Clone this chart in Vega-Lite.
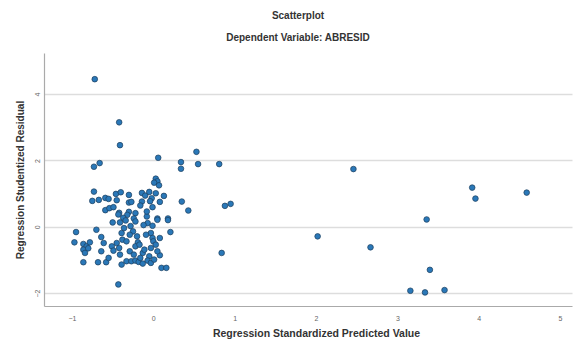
{
  "$schema": "https://vega.github.io/schema/vega-lite/v6.json",
  "width": 528,
  "height": 253,
  "autosize": "none",
  "padding": {"left": 44, "top": 53, "right": 2, "bottom": 34},
  "background": "white",
  "title": {
    "text": ["Scatterplot", "Dependent Variable: ABRESID"],
    "fontSize": 10,
    "fontWeight": "bold",
    "font": "Liberation Sans",
    "color": "#333333",
    "lineHeight": 22,
    "anchor": "middle",
    "dx": -10,
    "offset": 10
  },
  "config": {
    "view": {"stroke": null},
    "axis": {
      "labelFont": "Liberation Sans",
      "titleFont": "Liberation Sans",
      "labelColor": "#666666",
      "labelFontSize": 7,
      "titleFontSize": 10.5,
      "titleFontWeight": "bold",
      "titleColor": "#333333",
      "domainColor": "#aaaaaa",
      "domainWidth": 1.2,
      "ticks": false,
      "gridColor": "#dddddd",
      "gridWidth": 1.5
    }
  },
  "data": {
    "values": [
      {"pred": -0.72, "resid": 4.45}, {"pred": -0.42, "resid": 3.15}, {"pred": -0.41, "resid": 2.46},
      {"pred": -0.73, "resid": 1.81}, {"pred": -0.66, "resid": 1.92}, {"pred": 0.06, "resid": 2.08},
      {"pred": 0.34, "resid": 1.95}, {"pred": 0.34, "resid": 1.75}, {"pred": 0.53, "resid": 2.26},
      {"pred": 0.55, "resid": 1.89}, {"pred": 0.81, "resid": 1.89}, {"pred": 2.46, "resid": 1.74},
      {"pred": 3.92, "resid": 1.18}, {"pred": 3.96, "resid": 0.85}, {"pred": 4.59, "resid": 1.03},
      {"pred": 3.36, "resid": 0.22}, {"pred": 2.02, "resid": -0.29}, {"pred": 2.67, "resid": -0.62},
      {"pred": 3.40, "resid": -1.30}, {"pred": 3.16, "resid": -1.93}, {"pred": 3.34, "resid": -1.98},
      {"pred": 3.58, "resid": -1.91}, {"pred": 0.84, "resid": -0.79}, {"pred": 0.88, "resid": 0.63},
      {"pred": 0.95, "resid": 0.69}, {"pred": 0.35, "resid": 0.76}, {"pred": 0.43, "resid": 0.49},
      {"pred": -0.43, "resid": -1.74},
      {"pred": 0.03, "resid": 1.45}, {"pred": 0.05, "resid": 1.37}, {"pred": 0.01, "resid": 1.33},
      {"pred": 0.07, "resid": 1.25}, {"pred": -0.73, "resid": 1.06}, {"pred": -0.46, "resid": 0.99},
      {"pred": -0.40, "resid": 1.04}, {"pred": -0.30, "resid": 0.96}, {"pred": -0.14, "resid": 1.02},
      {"pred": -0.10, "resid": 0.94}, {"pred": -0.05, "resid": 1.05}, {"pred": 0.03, "resid": 1.01},
      {"pred": 0.13, "resid": 0.93}, {"pred": -0.02, "resid": 0.86},
      {"pred": -0.75, "resid": 0.78}, {"pred": -0.67, "resid": 0.81}, {"pred": -0.59, "resid": 0.87},
      {"pred": -0.55, "resid": 0.84}, {"pred": -0.45, "resid": 0.80}, {"pred": -0.30, "resid": 0.73},
      {"pred": -0.27, "resid": 0.75}, {"pred": -0.14, "resid": 0.76}, {"pred": -0.04, "resid": 0.77},
      {"pred": 0.08, "resid": 0.75}, {"pred": -0.16, "resid": 0.64}, {"pred": -0.01, "resid": 0.59},
      {"pred": -0.59, "resid": 0.50}, {"pred": -0.54, "resid": 0.56}, {"pred": -0.49, "resid": 0.59},
      {"pred": -0.30, "resid": 0.45}, {"pred": -0.42, "resid": 0.42}, {"pred": -0.32, "resid": 0.36},
      {"pred": -0.22, "resid": 0.41}, {"pred": -0.37, "resid": 0.27}, {"pred": -0.24, "resid": 0.25},
      {"pred": -0.08, "resid": 0.31}, {"pred": 0.05, "resid": 0.25}, {"pred": 0.18, "resid": 0.25},
      {"pred": -0.43, "resid": 0.37}, {"pred": -0.08, "resid": 0.46},
      {"pred": -0.50, "resid": 0.13}, {"pred": -0.41, "resid": 0.13}, {"pred": -0.34, "resid": 0.19},
      {"pred": -0.22, "resid": 0.16}, {"pred": -0.07, "resid": 0.11}, {"pred": 0.05, "resid": 0.21},
      {"pred": 0.18, "resid": 0.20}, {"pred": -0.12, "resid": 0.05}, {"pred": -0.28, "resid": 0.02},
      {"pred": -0.01, "resid": 0.03},
      {"pred": -0.95, "resid": -0.16}, {"pred": -0.97, "resid": -0.47}, {"pred": -0.70, "resid": -0.09},
      {"pred": -0.64, "resid": -0.31}, {"pred": -0.86, "resid": -0.52}, {"pred": -0.82, "resid": -0.59},
      {"pred": -0.78, "resid": -0.47}, {"pred": -0.86, "resid": -0.69}, {"pred": -0.84, "resid": -0.79},
      {"pred": -0.80, "resid": -0.65}, {"pred": -0.86, "resid": -1.07}, {"pred": -0.68, "resid": -1.07},
      {"pred": -0.58, "resid": -1.07}, {"pred": -0.64, "resid": -0.74}, {"pred": -0.61, "resid": -0.49},
      {"pred": -0.51, "resid": -0.59}, {"pred": -0.49, "resid": -0.72}, {"pred": -0.45, "resid": -0.49},
      {"pred": -0.39, "resid": -0.19}, {"pred": -0.36, "resid": -0.04}, {"pred": -0.38, "resid": -0.39},
      {"pred": -0.41, "resid": -0.84}, {"pred": -0.39, "resid": -1.14}, {"pred": -0.33, "resid": -1.04},
      {"pred": -0.29, "resid": -0.74}, {"pred": -0.27, "resid": -1.04}, {"pred": -0.22, "resid": -1.02},
      {"pred": -0.18, "resid": -1.06}, {"pred": -0.13, "resid": -1.11}, {"pred": -0.13, "resid": -0.79},
      {"pred": -0.25, "resid": -0.14}, {"pred": -0.20, "resid": -0.29}, {"pred": -0.19, "resid": -0.47},
      {"pred": -0.22, "resid": -0.59}, {"pred": -0.17, "resid": -0.54}, {"pred": -0.03, "resid": -0.19},
      {"pred": -0.01, "resid": -0.34}, {"pred": 0.00, "resid": -0.44}, {"pred": -0.03, "resid": -0.64},
      {"pred": -0.05, "resid": -0.89}, {"pred": -0.07, "resid": -1.02}, {"pred": -0.03, "resid": -1.09},
      {"pred": 0.01, "resid": -0.99}, {"pred": 0.08, "resid": -0.86}, {"pred": 0.10, "resid": -1.24},
      {"pred": 0.16, "resid": -1.24}, {"pred": 0.21, "resid": -0.16}, {"pred": -0.29, "resid": -0.24},
      {"pred": -0.33, "resid": -0.44}, {"pred": -0.24, "resid": -0.84}, {"pred": -0.09, "resid": -0.24},
      {"pred": -0.11, "resid": -0.69}, {"pred": 0.03, "resid": -0.54}, {"pred": -0.42, "resid": -0.64},
      {"pred": -0.55, "resid": -0.94}, {"pred": 0.08, "resid": -0.34}, {"pred": 0.05, "resid": -0.74},
      {"pred": -0.16, "resid": -0.94}
    ]
  },
  "mark": {
    "type": "point",
    "filled": true,
    "shape": "circle",
    "size": 32,
    "color": "#2a78b8",
    "stroke": "#1c3d5c",
    "strokeWidth": 0.7,
    "opacity": 1
  },
  "encoding": {
    "x": {
      "field": "pred",
      "type": "quantitative",
      "scale": {"domain": [-1.344, 5.147], "nice": false, "zero": false},
      "axis": {
        "title": "Regression Standardized Predicted Value",
        "values": [-1, 0, 1, 2, 3, 4, 5],
        "grid": false,
        "labelPadding": 8,
        "titlePadding": 7,
        "titleX": 272
      }
    },
    "y": {
      "field": "resid",
      "type": "quantitative",
      "scale": {"domain": [-2.39, 5.24], "nice": false, "zero": false},
      "axis": {
        "title": "Regression Studentized Residual",
        "titleFontSize": 10,
        "values": [-2, 0, 2, 4],
        "grid": true,
        "labelAngle": -90,
        "labelAlign": "center",
        "labelBaseline": "bottom",
        "labelPadding": 4,
        "titlePadding": 8
      }
    }
  }
}
